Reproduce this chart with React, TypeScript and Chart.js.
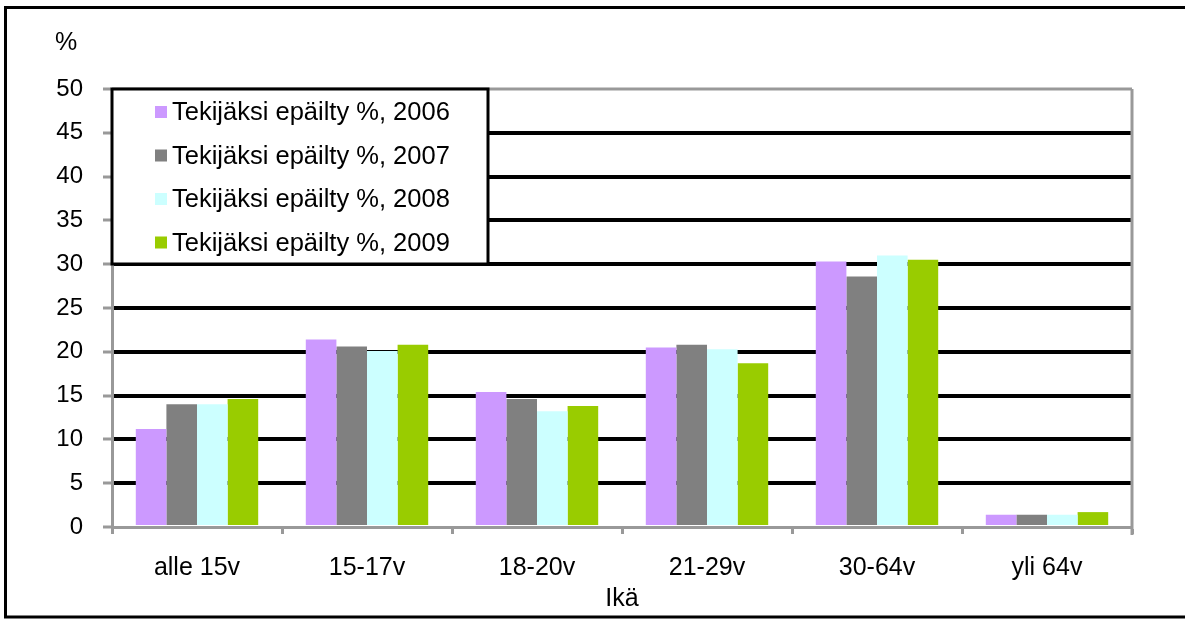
import React, { useEffect, useRef } from "react";
import { Chart, registerables } from "chart.js";

Chart.register(...registerables);

const categories = ["alle 15v", "15-17v", "18-20v", "21-29v", "30-64v", "yli 64v"];
const seriesLabels = [
  "Tekijäksi epäilty %, 2006",
  "Tekijäksi epäilty %, 2007",
  "Tekijäksi epäilty %, 2008",
  "Tekijäksi epäilty %, 2009",
];
const s2006 = [11.2, 21.4, 15.4, 20.5, 30.3, 1.4];
const s2007 = [14.0, 20.6, 14.6, 20.8, 28.6, 1.4];
const s2008 = [14.0, 20.1, 13.2, 20.3, 31.0, 1.4];
const s2009 = [14.6, 20.8, 13.8, 18.7, 30.5, 1.7];
const colors = ["#CC99FF", "#808080", "#CCFFFF", "#99CC00"];
const yMin = 0;
const yMax = 50;
const yStep = 5;
const yTitle = "%";
const xTitle = "Ikä";

const FONT = "'Liberation Sans', Arial, sans-serif";

const decorPlugin = {
  id: "decor",
  beforeDatasetsDraw(chart: any) {
    const { ctx, chartArea } = chart;
    ctx.save();
    ctx.strokeStyle = "#999999";
    ctx.lineWidth = 3;
    ctx.beginPath();
    ctx.moveTo(chartArea.left, chartArea.top);
    ctx.lineTo(chartArea.right, chartArea.top);
    ctx.moveTo(chartArea.right, chartArea.top);
    ctx.lineTo(chartArea.right, chartArea.bottom + 8);
    ctx.stroke();
    ctx.restore();
  },
  afterDraw(chart: any) {
    const { ctx, chartArea } = chart;
    ctx.save();
    // outer frame
    ctx.strokeStyle = "#000";
    ctx.lineWidth = 3;
    ctx.beginPath();
    ctx.moveTo(1190, 7.5);
    ctx.lineTo(5.5, 7.5);
    ctx.lineTo(5.5, 617);
    ctx.lineTo(1190, 617);
    ctx.stroke();

    // y title
    ctx.fillStyle = "#000";
    ctx.font = `25px ${FONT}`;
    ctx.textAlign = "left";
    ctx.textBaseline = "middle";
    ctx.fillText(yTitle, 55, 43);

    // legend box
    const lx = chartArea.left;
    const ly = chartArea.top;
    const lw = 376;
    const lh = 175;
    ctx.fillStyle = "#fff";
    ctx.fillRect(lx, ly, lw, lh);
    ctx.strokeStyle = "#000";
    ctx.lineWidth = 3;
    ctx.strokeRect(lx, ly, lw, lh);
    ctx.font = `25.5px ${FONT}`;
    ctx.textBaseline = "middle";
    chart.data.datasets.forEach((ds: any, i: number) => {
      const cy = ly + 23 + i * 43.5;
      ctx.fillStyle = ds.backgroundColor;
      ctx.fillRect(lx + 43, cy - 6, 12, 12);
      ctx.fillStyle = "#000";
      ctx.fillText(ds.label, lx + 60, cy + 1);
    });
    ctx.restore();
  },
};

export default function App() {
  const ref = useRef<HTMLCanvasElement>(null);
  useEffect(() => {
    if (!ref.current) return;
    const data = [s2006, s2007, s2008, s2009];
    const chart = new Chart(ref.current, {
      type: "bar",
      data: {
        labels: categories,
        datasets: data.map((d, i) => ({
          label: seriesLabels[i],
          data: d,
          backgroundColor: colors[i],
          borderWidth: 0,
          categoryPercentage: 0.72,
          barPercentage: 1.0,
        })),
      },
      options: {
        animation: false,
        responsive: false,
        layout: { padding: { left: 0, top: 89, right: 53, bottom: 0 } },
        plugins: {
          legend: { display: false },
          tooltip: { enabled: false },
        },
        scales: {
          x: {
            afterFit: (s: any) => {
              s.height = 92;
            },
            border: { color: "#999999", width: 3 },
            grid: {
              drawOnChartArea: false,
              drawTicks: true,
              tickLength: 7,
              tickColor: "#999999",
              tickWidth: 3,
            },
            ticks: {
              color: "#000",
              padding: 19,
              maxRotation: 0,
              font: { family: FONT, size: 25 },
            },
            title: {
              display: true,
              text: xTitle,
              color: "#000",
              font: { family: FONT, size: 25 },
              padding: { top: 0, bottom: 5 },
            },
          },
          y: {
            min: yMin,
            max: yMax,
            afterFit: (s: any) => {
              s.width = 112;
            },
            border: { color: "#999999", width: 3 },
            grid: {
              color: (c: any) =>
                c.tick && (c.tick.value === yMin || c.tick.value === yMax) ? "rgba(0,0,0,0)" : "#000",
              lineWidth: 4,
              drawTicks: true,
              tickLength: 9,
              tickColor: "#999999",
              tickWidth: 3,
            },
            ticks: {
              stepSize: yStep,
              color: "#000",
              padding: 20,
              font: { family: FONT, size: 24 },
            },
          },
        },
      },
      plugins: [decorPlugin],
    });
    return () => chart.destroy();
  }, []);
  return (
    <div style={{ position: "absolute", left: 0, top: 0, width: 1185, height: 619, background: "#fff" }}>
      <canvas ref={ref} width={1185} height={619} />
    </div>
  );
}
